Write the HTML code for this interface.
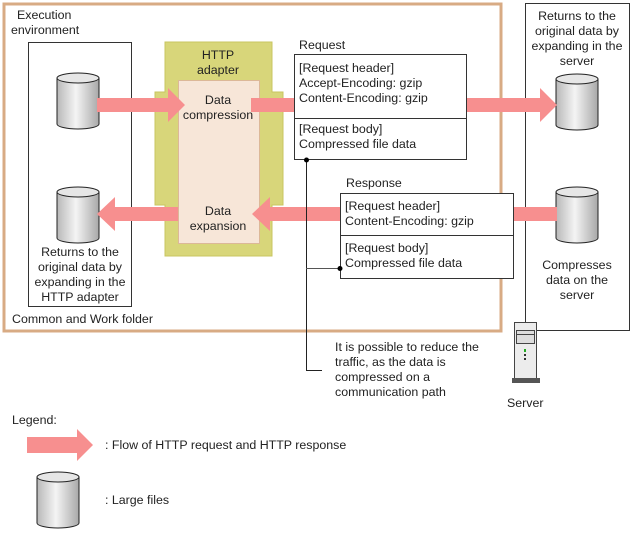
<!DOCTYPE html>
<html><head><meta charset="utf-8"><style>
body{margin:0;background:#fff}
svg text{font-family:"Liberation Sans",sans-serif;font-size:12.4px;fill:#222}
</style></head><body>
<svg width="633" height="536" viewBox="0 0 633 536" xmlns="http://www.w3.org/2000/svg">
<defs>
<linearGradient id="cg" x1="0" x2="1" y1="0" y2="0">
<stop offset="0" stop-color="#b8b8b8"/><stop offset="0.45" stop-color="#f4f4f4"/><stop offset="1" stop-color="#a8a8a8"/>
</linearGradient>
<g id="cyl">
<path d="M0,6 L0,52 A21,5 0 0 0 42,52 L42,6" fill="url(#cg)" stroke="#222" stroke-width="1"/>
<ellipse cx="21" cy="6" rx="21" ry="5" fill="#e6e6e6" stroke="#222" stroke-width="1"/>
</g>
</defs>
<rect x="4" y="4" width="497" height="327" fill="none" stroke="#d8ab84" stroke-width="3"/>
<text x="17" y="19">Execution</text>
<text x="11" y="34">environment</text>
<rect x="28.5" y="42.5" width="103" height="264" fill="#fff" stroke="#333"/>
<text x="12" y="323">Common and Work folder</text>
<rect x="525.5" y="3.5" width="104" height="327" fill="#fff" stroke="#333"/>
<text x="577" y="20" text-anchor="middle">Returns to the</text>
<text x="577" y="35" text-anchor="middle">original data by</text>
<text x="577" y="50" text-anchor="middle">expanding in the</text>
<text x="577" y="65" text-anchor="middle">server</text>
<text x="577" y="269" text-anchor="middle">Compresses</text>
<text x="577" y="284" text-anchor="middle">data on the</text>
<text x="577" y="299" text-anchor="middle">server</text>
<path d="M165,42 H272 V92 H283 V205 H272 V256 H165 V205 H155 V92 H165 Z" fill="#d8d67a" stroke="#c8c660"/>
<rect x="178.5" y="80.5" width="81" height="163" fill="#f7e6d8" stroke="#dcb898"/>
<text x="218" y="59" text-anchor="middle">HTTP</text>
<text x="218" y="74" text-anchor="middle">adapter</text>
<text x="218" y="104" text-anchor="middle">Data</text>
<text x="218" y="119" text-anchor="middle">compression</text>
<text x="218" y="215" text-anchor="middle">Data</text>
<text x="218" y="230" text-anchor="middle">expansion</text>
<use href="#cyl" x="57" y="72"/>
<use href="#cyl" x="57" y="186"/>
<use href="#cyl" x="556" y="73"/>
<use href="#cyl" x="556" y="186"/>
<text x="80" y="256" text-anchor="middle">Returns to the</text>
<text x="80" y="271" text-anchor="middle">original data by</text>
<text x="80" y="286" text-anchor="middle">expanding in the</text>
<text x="80" y="301" text-anchor="middle">HTTP adapter</text>
<g fill="#f78f8f">
<path d="M97,98 H168 V88 L185,105 L168,122 V112 H97 Z"/>
<rect x="251" y="98" width="44" height="14"/>
<path d="M467,98 H540 V88 L557,105 L540,122 V112 H467 Z"/>
<rect x="513" y="207" width="44" height="14"/>
<path d="M340,207 H270 V197 L252,214 L270,231 V221 H340 Z"/>
<path d="M178,207 H115 V197 L97,214 L115,231 V221 H178 Z"/>
<path d="M27,437 H77 V429 L93,445 L77,461 V453 H27 Z"/>
</g>
<text x="299" y="49">Request</text>
<rect x="294.5" y="54.5" width="172" height="105" fill="#fff" stroke="#333"/>
<line x1="294" y1="118.5" x2="467" y2="118.5" stroke="#333"/>
<text x="299" y="72">[Request header]</text>
<text x="299" y="87">Accept-Encoding: gzip</text>
<text x="299" y="102">Content-Encoding: gzip</text>
<text x="299" y="133">[Request body]</text>
<text x="299" y="148">Compressed file data</text>
<text x="346" y="187">Response</text>
<rect x="340.5" y="193.5" width="173" height="85" fill="#fff" stroke="#333"/>
<line x1="340" y1="235.5" x2="514" y2="235.5" stroke="#333"/>
<text x="345" y="210">[Request header]</text>
<text x="345" y="225">Content-Encoding: gzip</text>
<text x="345" y="252">[Request body]</text>
<text x="345" y="267">Compressed file data</text>
<path d="M306.5,160 V370.5 H322" fill="none" stroke="#222"/>
<line x1="306" y1="268.5" x2="340" y2="268.5" stroke="#555"/>
<circle cx="306.5" cy="160" r="2.5" fill="#000"/>
<circle cx="340" cy="268.5" r="2.5" fill="#000"/>
<text x="335" y="351">It is possible to reduce the</text>
<text x="335" y="366">traffic, as the data is</text>
<text x="335" y="381">compressed on a</text>
<text x="335" y="396">communication path</text>
<g>
<rect x="514.5" y="322.5" width="22" height="56" fill="#ececec" stroke="#444"/>
<rect x="516.5" y="330.5" width="18" height="13" fill="#ddd" stroke="#444"/>
<line x1="516" y1="334.5" x2="534" y2="334.5" stroke="#444"/>
<rect x="524" y="349" width="2" height="3" fill="#2a2"/>
<rect x="524" y="354" width="2" height="2" fill="#333"/>
<rect x="524" y="358" width="2" height="2" fill="#333"/>
<rect x="512" y="378" width="28" height="5" fill="#555"/>
</g>
<text x="507" y="407">Server</text>
<text x="12" y="424">Legend:</text>
<text x="105" y="449">: Flow of HTTP request and HTTP response</text>
<use href="#cyl" x="37" y="471"/>
<text x="105" y="504">: Large files</text>
</svg>
</body></html>
